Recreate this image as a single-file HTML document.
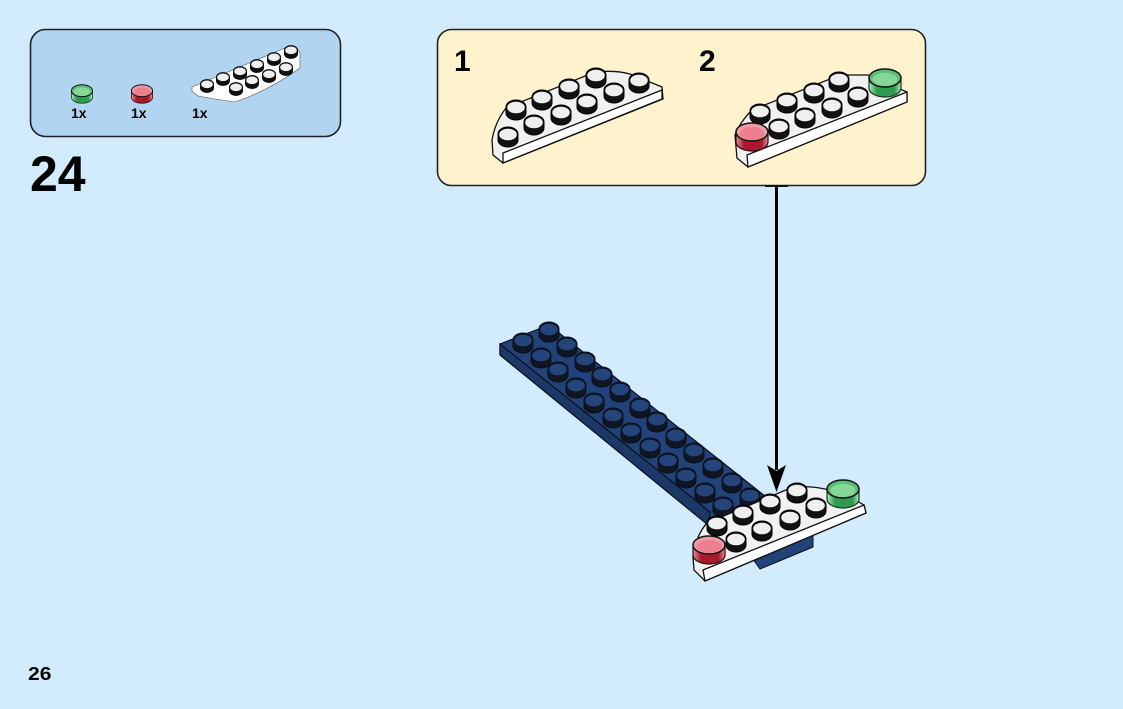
<!DOCTYPE html>
<html><head><meta charset="utf-8"><style>
html,body{margin:0;padding:0;background:#d3ecfd}
svg{display:block}
text{font-family:"Liberation Sans",sans-serif;font-weight:bold;fill:#000}
</style></head><body>
<svg width="1123" height="709" viewBox="0 0 1123 709" xmlns="http://www.w3.org/2000/svg">
<defs>
<linearGradient id="rb"><stop offset="0" stop-color="#e2909c"/><stop offset=".25" stop-color="#a81a2c"/><stop offset=".8" stop-color="#a81a2c"/><stop offset="1" stop-color="#e2909c"/></linearGradient>
<linearGradient id="gb"><stop offset="0" stop-color="#b9e6c4"/><stop offset=".25" stop-color="#2f9a50"/><stop offset=".8" stop-color="#2f9a50"/><stop offset="1" stop-color="#b9e6c4"/></linearGradient>
<g id="w"><path d="M-10-3A10 7 0 0 1 10-3V3A10 7 0 0 1-10 3Z" fill="#111" stroke="#000"/><ellipse cx="0" cy="-2.500" rx="8.800" ry="5.800" fill="#efefef"/></g>
<g id="b"><path d="M-10-3A10 7 0 0 1 10-3V3A10 7 0 0 1-10 3Z" fill="#0f1522" stroke="#0a0f1a"/><ellipse cx="0" cy="-2.500" rx="8.800" ry="5.800" fill="#24457b"/></g>
<g id="r"><path d="M-16-5V5A16 9 0 0 0 16 5V-5Z" fill="url(#rb)" stroke="#2a0a10" stroke-width="1.200"/><ellipse cx="0" cy="-5" rx="16" ry="9" fill="#ec9aa6" stroke="#111" stroke-width="1.500"/><ellipse cx="0" cy="-3.500" rx="12.500" ry="6.500" fill="#ee7f8e"/></g>
<g id="g"><path d="M-16-5V5A16 9 0 0 0 16 5V-5Z" fill="url(#gb)" stroke="#0c3a1a" stroke-width="1.200"/><ellipse cx="0" cy="-5" rx="16" ry="9" fill="#5dbd78" stroke="#111" stroke-width="1.500"/><ellipse cx="0" cy="-3.500" rx="12.500" ry="6.500" fill="#86d69a"/></g>
</defs>
<rect width="1123" height="709" fill="#d3ecfd"/>

<rect x="30.500" y="29.500" width="310" height="107" rx="15" fill="#b1d5f1" stroke="#222" stroke-width="1.600"/>
<rect x="437.500" y="29.500" width="488" height="156" rx="14" fill="#fef3cc" stroke="#222" stroke-width="1.600"/>

<!-- parts -->
<use href="#g" transform="translate(82,94) scale(.66)"/>
<use href="#r" transform="translate(142,94) scale(.66)"/>
<path d="M192 87L285 48Q296 44 300 53L300 68Q270 90 235 102L215 99L198 96L192 91Z" fill="#fff" stroke="#555" stroke-width=".6"/>
<g>
<use href="#w" transform="translate(291,52) scale(.66)"/><use href="#w" transform="translate(274,59) scale(.66)"/><use href="#w" transform="translate(257,66) scale(.66)"/><use href="#w" transform="translate(240,73) scale(.66)"/><use href="#w" transform="translate(223,79) scale(.66)"/><use href="#w" transform="translate(207,86) scale(.66)"/>
<use href="#w" transform="translate(286,69) scale(.66)"/><use href="#w" transform="translate(269,76) scale(.66)"/><use href="#w" transform="translate(252,82) scale(.66)"/><use href="#w" transform="translate(236,89) scale(.66)"/>
</g>
<text x="71" y="118" font-size="14">1x</text>
<text x="131" y="118" font-size="14">1x</text>
<text x="192" y="118" font-size="14">1x</text>
<text x="30" y="191" font-size="50">24</text>
<text x="28" y="680" font-size="18" textLength="23.500" lengthAdjust="spacingAndGlyphs">26</text>
<text x="454" y="71" font-size="30">1</text>
<text x="699" y="71" font-size="30">2</text>

<!-- panel 1 -->
<path d="M492 140Q495 122 506 108L595 72Q615 70 630 74L662 87L663 99L503 163L493 155Z" fill="#f1f1f1" stroke="#111" stroke-width="1.300"/>
<path d="M503 153L662 90V99L503 163Z" fill="#fff" stroke="#111" stroke-width="1.300"/>
<use href="#w" x="596" y="78"/><use href="#w" x="639" y="83"/><use href="#w" x="569" y="89"/><use href="#w" x="614" y="93"/><use href="#w" x="542" y="100"/><use href="#w" x="587" y="104"/><use href="#w" x="516" y="110"/><use href="#w" x="561" y="115"/><use href="#w" x="534" y="125"/><use href="#w" x="508" y="137"/>

<!-- panel 2 -->
<path d="M735 135Q740 122 752 110L840 75L868 75L907 92V102L748 167L737 158Z" fill="#f1f1f1" stroke="#111" stroke-width="1.300"/>
<path d="M747 155L907 92V102L748 167Z" fill="#fff" stroke="#111" stroke-width="1.300"/>
<use href="#w" x="839" y="82"/><use href="#w" x="814" y="93"/><use href="#w" x="787" y="103"/><use href="#w" x="760" y="114"/><use href="#w" x="858" y="97"/><use href="#w" x="832" y="108"/><use href="#w" x="805" y="118"/><use href="#w" x="779" y="129"/>
<use href="#g" x="885" y="83"/><use href="#r" x="752" y="137"/>

<!-- blue plate -->
<path d="M500 344L549 325L770 500L720 530L500 355Z" fill="#21437a" stroke="#0a0f1a" stroke-width="1.200"/>
<path d="M500 344L710 512L708 525L500 355Z" fill="#1b3867" stroke="#0a0f1a" stroke-width="1.200"/>
<use href="#b" x="549" y="332"/><use href="#b" x="567" y="347"/><use href="#b" x="585" y="362"/><use href="#b" x="602" y="377"/><use href="#b" x="620" y="392"/><use href="#b" x="640" y="408"/><use href="#b" x="657" y="422"/><use href="#b" x="676" y="438"/><use href="#b" x="694" y="453"/><use href="#b" x="713" y="468"/><use href="#b" x="732" y="483"/><use href="#b" x="750" y="498"/>
<use href="#b" x="523" y="343"/><use href="#b" x="541" y="358"/><use href="#b" x="558" y="372"/><use href="#b" x="576" y="388"/><use href="#b" x="594" y="403"/><use href="#b" x="613" y="418"/><use href="#b" x="631" y="433"/><use href="#b" x="650" y="448"/><use href="#b" x="668" y="463"/><use href="#b" x="686" y="478"/><use href="#b" x="705" y="493"/><use href="#b" x="723" y="507"/>
<path d="M750 555L760 569L813 547V530L750 550Z" fill="#21437a" stroke="#0a0f1a" stroke-width="1"/>

<!-- final white plate -->
<path d="M693 557Q696 535 707 523L793 487Q830 484 864 505L866 513L705 581L694 570Z" fill="#f1f1f1" stroke="#111" stroke-width="1.300"/>
<path d="M703 570L864 505L866 513L705 581Z" fill="#fff" stroke="#111" stroke-width="1.300"/>
<use href="#w" x="797" y="493"/><use href="#w" x="770" y="504"/><use href="#w" x="743" y="515"/><use href="#w" x="717" y="526"/><use href="#w" x="816" y="508"/><use href="#w" x="790" y="520"/><use href="#w" x="762" y="531"/><use href="#w" x="736" y="542"/>
<use href="#r" x="709" y="550"/><use href="#g" x="843" y="494"/>

<!-- arrow -->
<rect x="765" y="185" width="23" height="2" fill="#111"/>
<rect x="775" y="185" width="3" height="285" fill="#000"/>
<path d="M767 465L776.500 471L786 465L776.500 492Z" fill="#000"/>
</svg>
</body></html>
